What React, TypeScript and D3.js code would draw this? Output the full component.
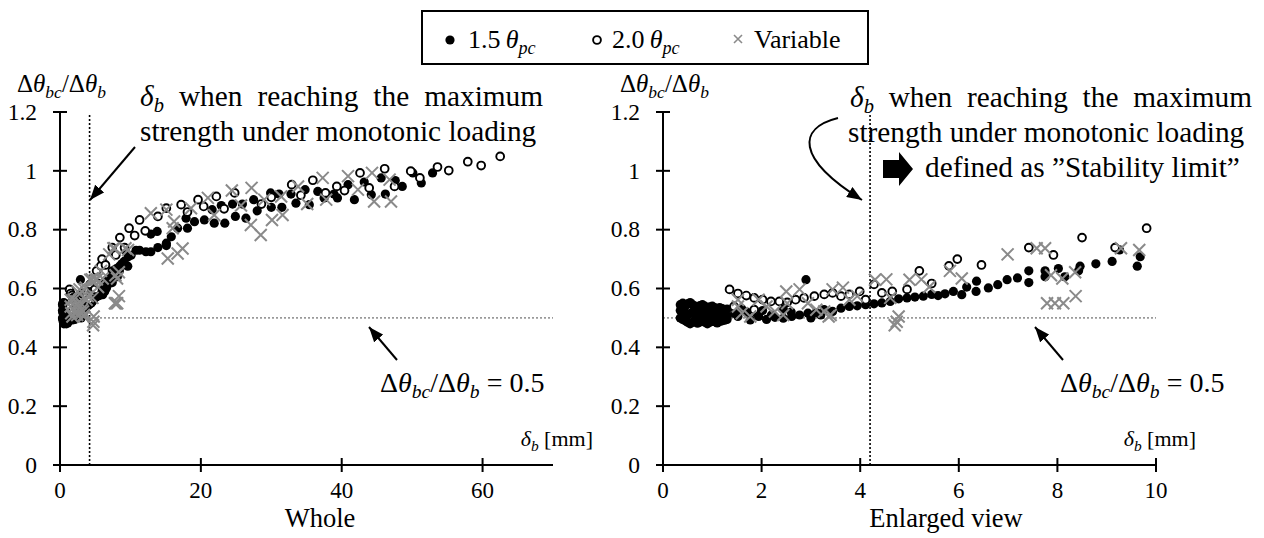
import React from 'react';
import * as d3 from 'd3';

type P = [number, number];

// ---------- data ----------
const legendNames = ['1.5', '2.0', 'Variable'];
const xTicksWhole = [0, 20, 40, 60];
const xTicksEnlarged = [0, 2, 4, 6, 8, 10];
const yTicks = [0, 0.2, 0.4, 0.6, 0.8, 1, 1.2];
const yTickLabels = ['0', '0.2', '0.4', '0.6', '0.8', '1', '1.2'];
const stabilityLimit = 4.2;
const ratioLevel = 0.5;

// 1.5 theta_pc (filled)
const series15: P[] = [
  [0.35, 0.545], [0.4, 0.55], [0.45, 0.54], [0.5, 0.548], [0.55, 0.552], [0.6, 0.545], [0.65, 0.54], [0.7, 0.538], [0.75, 0.542], [0.8, 0.545],
  [0.85, 0.54], [0.9, 0.535], [0.95, 0.538], [1.0, 0.54], [1.05, 0.535], [1.1, 0.53], [1.15, 0.535], [1.2, 0.532], [1.25, 0.528], [1.3, 0.53],
  [0.35, 0.525], [0.4, 0.52], [0.45, 0.515], [0.5, 0.51], [0.55, 0.515], [0.6, 0.52], [0.65, 0.512], [0.7, 0.51], [0.75, 0.515], [0.8, 0.52],
  [0.85, 0.51], [0.9, 0.505], [0.95, 0.51], [1.0, 0.515], [1.05, 0.51], [1.1, 0.505], [1.15, 0.51], [1.2, 0.515], [1.25, 0.51], [1.3, 0.505],
  [0.35, 0.5], [0.4, 0.495], [0.45, 0.49], [0.5, 0.485], [0.55, 0.48], [0.6, 0.485], [0.65, 0.49], [0.7, 0.482], [0.75, 0.486], [0.8, 0.49],
  [0.85, 0.485], [0.9, 0.48], [0.95, 0.485], [1.0, 0.49], [1.05, 0.487], [1.1, 0.483], [1.15, 0.488], [1.2, 0.49], [1.25, 0.492], [1.3, 0.495],
  [1.45, 0.515], [1.52, 0.505], [1.6, 0.53], [1.7, 0.52], [1.77, 0.493], [1.9, 0.515], [1.94, 0.505], [2.02, 0.525], [2.1, 0.495], [2.2, 0.51],
  [2.27, 0.502], [2.44, 0.499], [2.44, 0.53], [2.61, 0.505], [2.6, 0.52], [2.77, 0.51], [2.9, 0.63], [2.94, 0.516], [3.0, 0.5], [3.11, 0.518],
  [3.2, 0.51], [3.27, 0.528], [3.44, 0.522], [3.61, 0.533], [3.78, 0.539], [3.94, 0.541], [4.11, 0.545], [4.28, 0.548], [4.44, 0.551], [4.61, 0.556],
  [4.78, 0.565], [4.95, 0.568], [5.11, 0.571], [5.28, 0.574], [5.45, 0.58], [5.58, 0.576], [5.72, 0.582], [5.89, 0.59], [6.06, 0.579], [6.16, 0.605],
  [6.35, 0.59], [6.36, 0.625], [6.6, 0.602], [6.79, 0.613], [6.98, 0.63], [7.19, 0.636], [7.42, 0.62], [7.42, 0.66], [7.75, 0.64], [7.75, 0.66],
  [8.02, 0.668], [8.15, 0.64], [8.43, 0.66], [8.46, 0.676], [8.78, 0.684], [9.11, 0.692], [9.26, 0.731], [9.62, 0.676], [9.68, 0.708],
  [10.1, 0.713], [10.8, 0.73], [11.3, 0.73], [12.2, 0.725], [12.9, 0.725], [12.9, 0.785], [13.8, 0.794], [13.9, 0.739], [15.1, 0.754], [15.1, 0.746],
  [15.8, 0.776], [16.7, 0.805], [17.9, 0.839], [18.1, 0.805], [19.1, 0.827],
  [20.5, 0.833], [21.6, 0.868], [21.9, 0.822], [22.9, 0.882], [23.4, 0.822], [24.5, 0.887], [24.9, 0.845], [25.9, 0.887], [26.4, 0.839], [27.5, 0.902],
  [28.0, 0.864], [29.9, 0.925], [30.0, 0.876], [31.1, 0.921], [31.5, 0.876], [32.8, 0.921], [33.5, 0.89], [34.8, 0.936], [35.4, 0.885], [36.6, 0.93],
  [37.5, 0.908], [38.9, 0.921], [39.4, 0.908], [40.9, 0.953], [41.8, 0.902], [43.2, 0.962], [44.2, 0.919], [45.6, 0.976], [46.2, 0.921], [47.6, 0.967],
  [48.6, 0.947], [50.1, 0.993], [51.3, 0.959], [52.9, 0.993],
];

// 2.0 theta_pc (open)
const series20: P[] = [
  [1.35, 0.597], [1.44, 0.539], [1.52, 0.583], [1.69, 0.576], [1.85, 0.568], [1.85, 0.528], [2.02, 0.562], [2.19, 0.556], [2.36, 0.556], [2.52, 0.553],
  [2.69, 0.562], [2.86, 0.568], [3.07, 0.574], [3.27, 0.58], [3.44, 0.585], [3.61, 0.574], [3.78, 0.58], [3.99, 0.59], [4.11, 0.562], [4.28, 0.614],
  [4.44, 0.585], [4.65, 0.59], [4.95, 0.597], [5.2, 0.66], [5.45, 0.617], [5.8, 0.677], [5.97, 0.7], [6.46, 0.68], [7.42, 0.739], [7.92, 0.714],
  [8.5, 0.773], [9.17, 0.739], [9.81, 0.805],
  [10.6, 0.78], [11.3, 0.833], [12.1, 0.796], [13.9, 0.845], [15.1, 0.873], [17.2, 0.885], [18.1, 0.86], [19.6, 0.902], [20.4, 0.879], [22.2, 0.913],
  [23.3, 0.871], [24.8, 0.925], [28.6, 0.887], [30.0, 0.91], [32.9, 0.953], [34.2, 0.917], [35.9, 0.968], [37.7, 0.925], [39.3, 0.947], [40.4, 0.933],
  [42.6, 0.993], [43.9, 0.942], [46.1, 1.007], [47.5, 0.947], [49.8, 0.999], [51.1, 0.976], [53.6, 1.013], [55.2, 1.001], [57.9, 1.031], [59.8, 1.018],
  [62.5, 1.049],
];

// Variable (gray crosses)
const seriesVar: P[] = [
  [1.52, 0.539], [1.52, 0.562], [1.6, 0.516], [1.77, 0.505], [1.94, 0.562], [2.1, 0.539], [2.27, 0.522], [2.44, 0.51], [2.52, 0.55], [2.5, 0.59],
  [2.77, 0.597], [2.94, 0.55], [3.11, 0.528], [3.27, 0.522], [3.36, 0.505], [3.4, 0.51], [3.44, 0.597], [3.65, 0.603], [3.78, 0.562], [3.94, 0.574],
  [4.3, 0.63], [4.53, 0.631], [4.61, 0.568], [4.7, 0.475], [4.74, 0.487], [4.78, 0.505], [5.0, 0.63], [5.24, 0.631], [5.4, 0.605], [5.82, 0.66],
  [6.06, 0.634], [6.99, 0.716], [7.58, 0.737], [7.75, 0.737], [7.79, 0.55], [7.87, 0.645], [7.95, 0.55], [8.1, 0.634], [8.12, 0.55], [8.36, 0.655],
  [8.37, 0.574], [9.29, 0.737], [9.66, 0.731],
  [12.9, 0.856], [15.1, 0.868], [15.3, 0.702], [16.0, 0.805], [16.2, 0.828], [16.7, 0.719], [17.4, 0.736], [18.6, 0.873], [21.0, 0.908], [21.9, 0.85],
  [24.4, 0.933], [25.7, 0.882], [27.1, 0.816], [27.2, 0.942], [28.5, 0.782], [29.0, 0.902], [30.1, 0.833], [31.4, 0.913], [31.6, 0.85], [33.8, 0.947],
  [35.1, 0.887], [37.3, 0.976], [37.8, 0.902], [40.9, 0.982], [42.3, 0.936], [44.3, 0.993], [44.6, 0.896], [46.8, 0.97], [47.0, 0.896],
];

// ---------- styling / layout ----------
const FONT = "'Liberation Serif', 'Times New Roman', serif";
const TXT = { fontFamily: FONT };
const GRAY = '#8a8a8a';
const Y_BOTTOM = 465;
const Y_TOP = 112;
const NOTE = 29.3;

let _ctx: CanvasRenderingContext2D | null = null;
function tw(text: string, size: number, italic = false): number {
  if (!_ctx) _ctx = document.createElement('canvas').getContext('2d');
  if (!_ctx) return text.length * size * 0.5;
  _ctx.font = `${italic ? 'italic ' : ''}${size}px 'Liberation Serif'`;
  return _ctx.measureText(text).width;
}

type Seg = { t: string; it?: boolean; sub?: boolean };

function Rich({ x, y, size, segs, anchor = 'start' }: { x: number; y: number; size: number; segs: Seg[]; anchor?: string }) {
  let cur = 0;
  return (
    <text x={x} y={y} fontSize={size} textAnchor={anchor} style={TXT} fill="#000">
      {segs.map((s, i) => {
        const target = s.sub ? size * 0.22 : 0;
        const dy = target - cur;
        cur = target;
        return (
          <tspan key={i} dy={dy} style={{ fontFamily: FONT, fontStyle: s.it ? 'italic' : 'normal' }} fontSize={s.sub ? size * 0.7 : size}>
            {s.t}
          </tspan>
        );
      })}
    </text>
  );
}

const ratioSegs: Seg[] = [
  { t: 'Δ' }, { t: 'θ', it: true }, { t: 'bc', it: true, sub: true }, { t: '/Δ' }, { t: 'θ', it: true }, { t: 'b', it: true, sub: true },
];

function JustifiedLine({ x0, x1, y, size }: { x0: number; x1: number; y: number; size: number }) {
  const words = ['when', 'reaching', 'the', 'maximum'];
  const dW = tw('δ', size, true) + tw('b', size * 0.7, true);
  const ws = words.map((w) => tw(w, size));
  const gap = (x1 - x0 - dW - d3.sum(ws)) / words.length;
  let x = x0 + dW + gap;
  const pos = ws.map((w) => {
    const p = x;
    x += w + gap;
    return p;
  });
  return (
    <g>
      <Rich x={x0} y={y} size={size} segs={[{ t: 'δ', it: true }, { t: 'b', it: true, sub: true }]} />
      {words.map((w, i) => (
        <text key={w} x={pos[i]} y={y} fontSize={size} style={TXT}>{w}</text>
      ))}
    </g>
  );
}

function Cross({ x, y, r, w }: { x: number; y: number; r: number; w: number }) {
  return <path d={`M${x - r},${y - r}L${x + r},${y + r}M${x - r},${y + r}L${x + r},${y - r}`} stroke={GRAY} strokeWidth={w} fill="none" />;
}

function Panel({ x0, x1, xMax, ticks, caption, captionX }: { x0: number; x1: number; xMax: number; ticks: number[]; caption: string; captionX: number }) {
  const x = d3.scaleLinear().domain([0, xMax]).range([x0, x1]);
  const y = d3.scaleLinear().domain([0, 1.2]).range([Y_BOTTOM, Y_TOP]);
  const inRange = (p: P) => p[0] <= xMax + 0.05;
  const d15 = series15.filter(inRange);
  const d20 = series20.filter(inRange);
  const dV = seriesVar.filter(inRange);
  return (
    <g>
      <line x1={x(0)} x2={x(xMax)} y1={y(ratioLevel)} y2={y(ratioLevel)} stroke="#9a9a9a" strokeWidth={1.6} strokeDasharray="2,2" />
      <line x1={x(stabilityLimit)} x2={x(stabilityLimit)} y1={y(1.2) + 3} y2={y(0)} stroke="#000" strokeWidth={1.6} strokeDasharray="2,2" />
      {d15.map((p, i) => <circle key={'a' + i} cx={x(p[0])} cy={y(p[1])} r={4.6} fill="#000" />)}
      {d20.map((p, i) => <circle key={'b' + i} cx={x(p[0])} cy={y(p[1])} r={3.9} fill="#fff" stroke="#000" strokeWidth={1.9} />)}
      {dV.map((p, i) => <Cross key={'c' + i} x={x(p[0])} y={y(p[1])} r={6} w={2} />)}
      <line x1={x0} x2={x0} y1={y(1.2)} y2={y(0)} stroke="#000" strokeWidth={2} />
      <line x1={x0} x2={x1} y1={y(0)} y2={y(0)} stroke="#000" strokeWidth={2} />
      {yTicks.map((t, i) => (
        <g key={'y' + t}>
          <line x1={x0 - 7} x2={x0 + 7} y1={y(t)} y2={y(t)} stroke="#000" strokeWidth={2} />
          <text x={x0 - 23} y={y(t) + 7.8} textAnchor="end" fontSize={23.5} style={TXT}>{yTickLabels[i]}</text>
        </g>
      ))}
      {ticks.map((t) => (
        <g key={'x' + t}>
          <line x1={x(t)} x2={x(t)} y1={y(0) - 7} y2={y(0) + 7} stroke="#000" strokeWidth={2} />
          <text x={x(t)} y={498} textAnchor="middle" fontSize={23} style={TXT}>{t}</text>
        </g>
      ))}
      <Rich x={x0 - 43} y={92} size={25} segs={ratioSegs} />
      <Rich x={x1 + 40} y={446} size={22} anchor="end" segs={[{ t: 'δ', it: true }, { t: 'b', it: true, sub: true }, { t: ' [mm]' }]} />
      <text x={captionX} y={527} textAnchor="middle" fontSize={26.5} style={TXT}>{caption}</text>
    </g>
  );
}

export default function App() {
  const line2 = 'strength under monotonic loading';
  return (
    <svg width={1264} height={538} style={{ position: 'absolute', left: 0, top: 0, background: '#fff', fontFamily: FONT }}>
      <defs>
        <marker id="ah" markerWidth={16} markerHeight={12} refX={15} refY={6} orient="auto" markerUnits="userSpaceOnUse">
          <path d="M0,0L15,6L0,12Z" fill="#000" />
        </marker>
      </defs>
      <rect width={1264} height={538} fill="#fff" />

      {/* legend */}
      <rect x={422} y={11} width={446} height={53} fill="#fff" stroke="#000" strokeWidth={2} />
      <circle cx={450} cy={40} r={4.6} fill="#000" />
      <Rich x={468} y={48} size={26} segs={[{ t: legendNames[0] + '\u2009' }, { t: 'θ', it: true }, { t: 'pc', it: true, sub: true }]} />
      <circle cx={597} cy={40} r={3.9} fill="#fff" stroke="#000" strokeWidth={1.9} />
      <Rich x={612} y={48} size={26} segs={[{ t: legendNames[1] + '\u2009' }, { t: 'θ', it: true }, { t: 'pc', it: true, sub: true }]} />
      <Cross x={738} y={39} r={4} w={1.6} />
      <text x={754} y={48} fontSize={26} style={TXT}>{legendNames[2]}</text>

      <Panel x0={60} x1={553} xMax={70} ticks={xTicksWhole} caption="Whole" captionX={320} />
      <Panel x0={663} x1={1156} xMax={10} ticks={xTicksEnlarged} caption="Enlarged view" captionX={946} />

      {/* left annotations */}
      <JustifiedLine x0={140} x1={543} y={106} size={NOTE} />
      <text x={140} y={141} fontSize={NOTE} style={TXT}>{line2}</text>
      <line x1={135} y1={147} x2={90} y2={200} stroke="#000" strokeWidth={2} markerEnd="url(#ah)" />
      <line x1={397} y1={360} x2={369} y2={327} stroke="#000" strokeWidth={2} markerEnd="url(#ah)" />
      <Rich x={380} y={392} size={28} segs={[...ratioSegs, { t: ' = 0.5' }]} />

      {/* right annotations */}
      <JustifiedLine x0={850} x1={1252} y={107} size={NOTE} />
      <text x={848} y={142} fontSize={NOTE} style={TXT}>{line2}</text>
      <text x={925} y={177} fontSize={NOTE} style={TXT}>{'defined as \u201DStability limit\u201D'}</text>
      <path d="M883,160L899,160L899,152L913,169L899,186L899,178L883,178Z" fill="#000" />
      <path d="M838,118C798,128 795,158 862,200" fill="none" stroke="#000" strokeWidth={2} markerEnd="url(#ah)" />
      <line x1={1063} y1={360} x2={1035} y2={327} stroke="#000" strokeWidth={2} markerEnd="url(#ah)" />
      <Rich x={1060} y={392} size={28} segs={[...ratioSegs, { t: ' = 0.5' }]} />
    </svg>
  );
}
